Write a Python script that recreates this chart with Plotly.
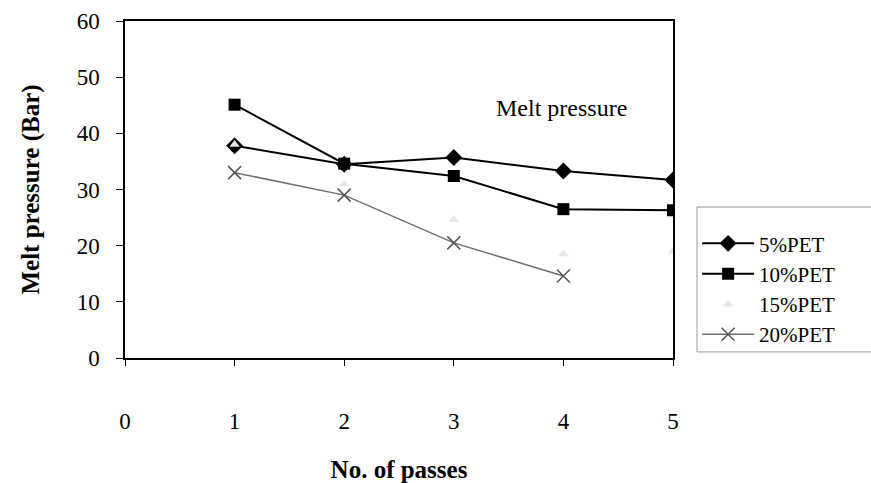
import plotly.graph_objects as go

passes = [1, 2, 3, 4, 5]
pet5 = [37.8, 34.5, 35.7, 33.3, 31.7]
pet10 = [45.1, 34.6, 32.4, 26.5, 26.3]
pet15 = [38.0, 31.0, 24.6, 18.5, 19.0]
passes20 = [1, 2, 3, 4]
pet20 = [33.0, 29.0, 20.5, 14.6]

FONT = "Liberation Serif"

fig = go.Figure()
fig.add_trace(go.Scatter(x=passes, y=pet5, name="5%PET", mode="lines+markers",
                         line=dict(color="black", width=2),
                         marker=dict(symbol="diamond", size=13, color="black")))
fig.add_trace(go.Scatter(x=passes, y=pet10, name="10%PET", mode="lines+markers",
                         line=dict(color="black", width=2),
                         marker=dict(symbol="square", size=12, color="black")))
fig.add_trace(go.Scatter(x=passes, y=pet15, name="15%PET", mode="markers",
                         marker=dict(symbol="triangle-up", size=9, color="#e6e6e6")))
fig.add_trace(go.Scatter(x=passes20, y=pet20, name="20%PET", mode="lines+markers",
                         line=dict(color="#6e6e6e", width=1.5),
                         marker=dict(symbol="x-thin", size=13, color="#555555",
                                     line=dict(width=1.5, color="#555555"))))

fig.add_annotation(x=3.98, y=44.5, text="Melt pressure", showarrow=False,
                   font=dict(family=FONT, size=24, color="black"))

# legend frame
fig.add_shape(type="rect", xref="paper", yref="paper",
              x0=1.0438, x1=1.45, y0=0.018, y1=0.448,
              line=dict(color="#999999", width=1), fillcolor="rgba(0,0,0,0)")

fig.update_layout(
    width=871, height=483,
    margin=dict(l=125, r=198, t=21, b=125),
    plot_bgcolor="white", paper_bgcolor="white",
    font=dict(family=FONT, size=23, color="black"),
    showlegend=True,
    legend=dict(x=1.044, y=0.40, xanchor="left", yanchor="top",
                borderwidth=0, bgcolor="rgba(0,0,0,0)",
                font=dict(family=FONT, size=21, color="black"),
                tracegroupgap=0, itemwidth=52),
)
fig.update_xaxes(range=[0, 5], tickvals=[0, 1, 2, 3, 4, 5], automargin=False,
                 showgrid=False, zeroline=False,
                 showline=True, linecolor="black", linewidth=1.5, mirror=True,
                 ticks="outside", ticklen=6, tickcolor="black",
                 tickfont=dict(family=FONT, size=23),
                 ticklabelstandoff=36,
                 title=dict(text="<b>No. of passes</b>", standoff=30,
                            font=dict(family=FONT, size=25)))
fig.update_yaxes(range=[0, 60], tickvals=[0, 10, 20, 30, 40, 50, 60], automargin=False,
                 showgrid=False, zeroline=False,
                 showline=True, linecolor="black", linewidth=1.5, mirror=True,
                 ticks="outside", ticklen=7, tickcolor="black",
                 tickfont=dict(family=FONT, size=23),
                 ticklabelstandoff=12,
                 title=dict(text="<b>Melt pressure (Bar)</b>", standoff=30,
                            font=dict(family=FONT, size=25)))

fig.write_html("out.html")
